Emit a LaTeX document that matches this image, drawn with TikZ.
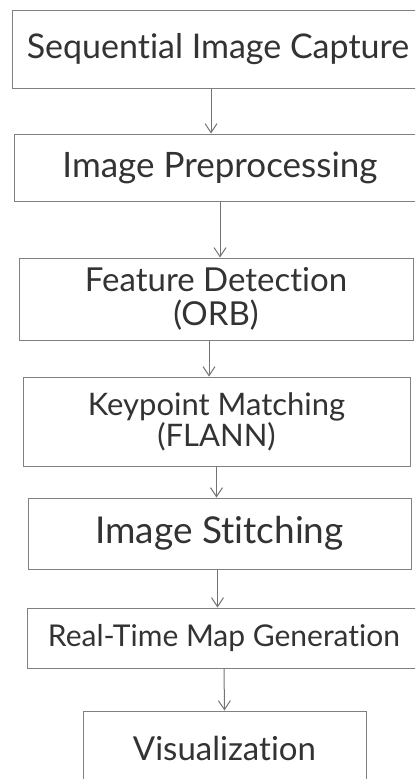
\documentclass[tikz,border=0pt]{standalone}
\usepackage{fontspec}
\setmainfont{Lato}[Ligatures=NoCommon]
\usetikzlibrary{arrows.meta}

\begin{document}
\begin{tikzpicture}[x=1pt,y=-1pt]
	\tikzstyle{stage}=[rectangle,draw=black!50,line width=1pt,inner sep=0pt,align=center,text=black!80]
	\tikzstyle{flow}=[draw=black!55,line width=1pt,-{Straight Barb[length=9pt,width=12pt]}]
	\useasboundingbox (0,0) rectangle (415,779);
	\clip (0,0) rectangle (415,779);
	\node[stage,minimum width=412pt,minimum height=78pt,font=\fontsize{34}{40}\selectfont](s1) at (218,49) {Sequential Image Capture};
	\node[stage,minimum width=412pt,minimum height=67pt,font=\fontsize{35}{40}\selectfont](s2) at (220,167.5) {Image Preprocessing};
	\node[stage,minimum width=394pt,minimum height=82pt,font=\fontsize{33}{34}\selectfont](s3) at (216,299) {Feature Detection\\(ORB)};
	\node[stage,minimum width=387pt,minimum height=89pt,font=\fontsize{31}{28}\selectfont](s4) at (216.5,421.5) {Keypoint Matching\\(FLANN)};
	\node[stage,minimum width=383pt,minimum height=71pt,font=\fontsize{37}{40}\selectfont](s5) at (219.5,533.5) {Image Stitching};
	\node[stage,minimum width=394pt,minimum height=60pt,font=\fontsize{30}{36}\selectfont](s6) at (224,638) {Real-Time Map Generation};
	\node[stage,minimum width=283pt,minimum height=74pt,font=\fontsize{33}{40}\selectfont](s7) at (224.5,748) {Visualization};
	\path
		([xshift=-7pt]s1.south) edge[flow] ([xshift=-7pt]s1.south |- s2.north)
		(s2.south) edge[flow] (s2.south |- s3.north)
		([xshift=-7pt]s3.south) edge[flow] ([xshift=-7pt]s3.south |- s4.north)
		(s4.south) edge[flow] (s4.south |- s5.north)
		([xshift=-2pt]s5.south) edge[flow] ([xshift=-2pt]s5.south |- s6.north)
		(s6.south) edge[flow] (s7.north);
\end{tikzpicture}
\end{document}
